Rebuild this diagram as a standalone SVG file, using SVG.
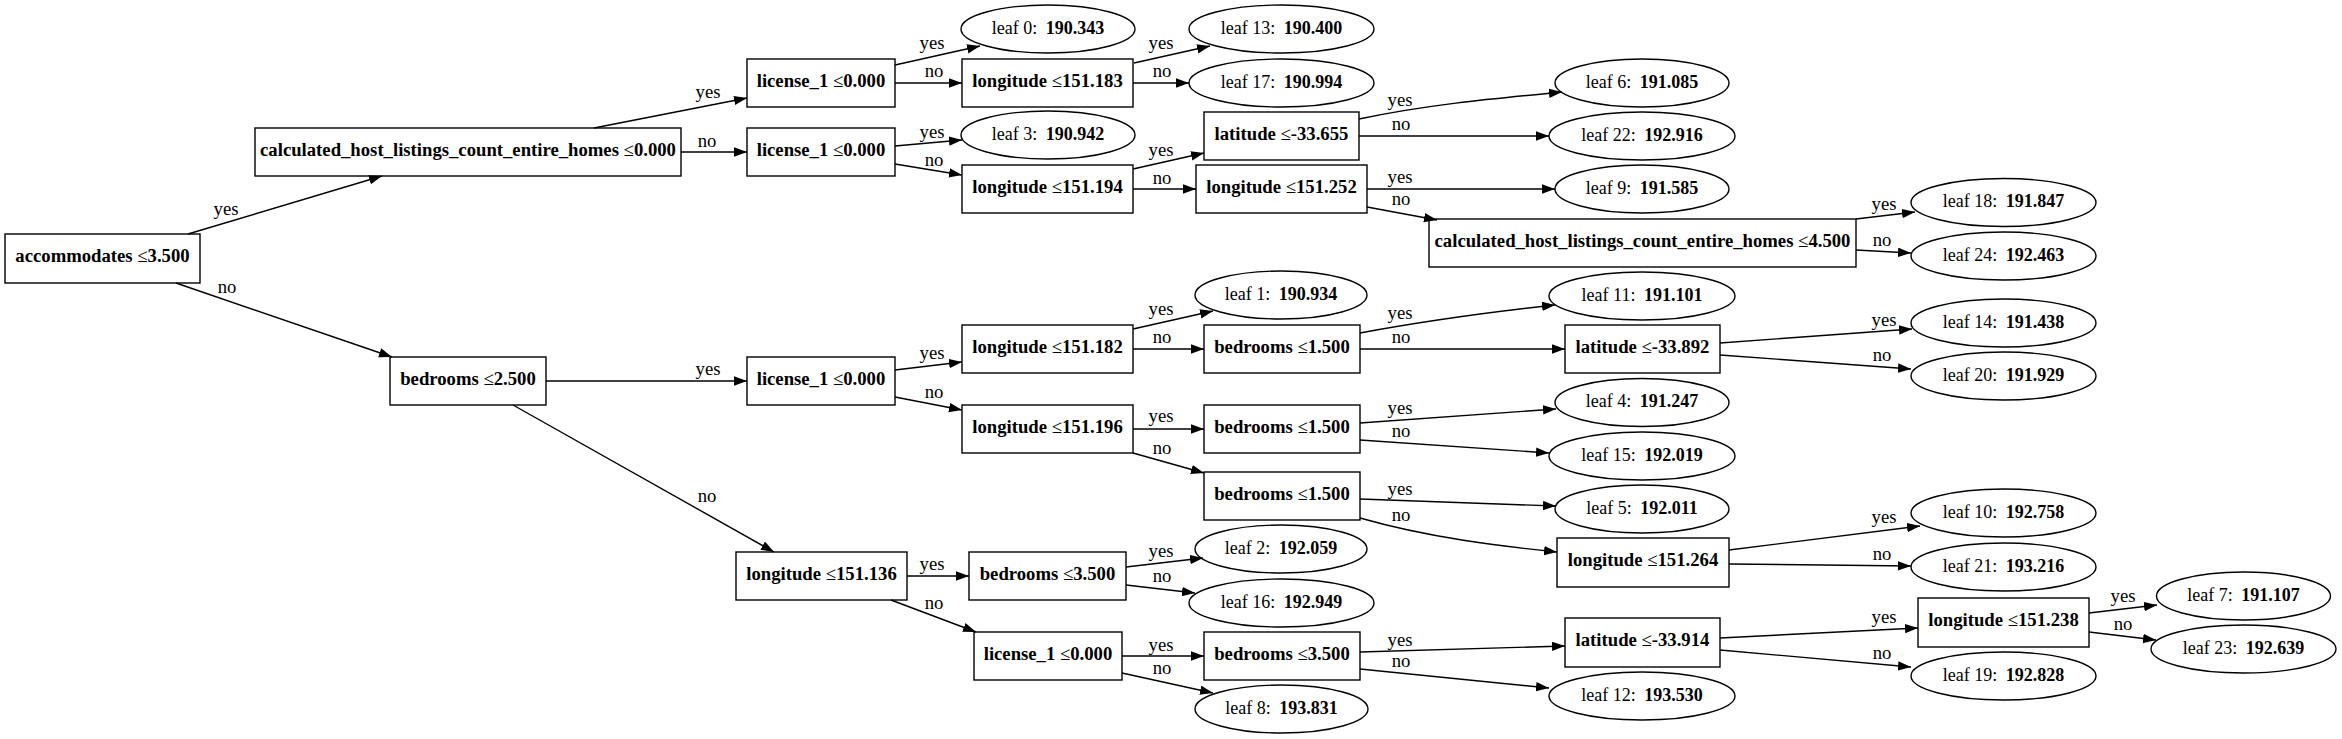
<svg xmlns="http://www.w3.org/2000/svg" width="2342" height="739" viewBox="0 0 2342 739">
<style>
.n rect{fill:none;stroke:#000;stroke-width:1.4}
.n ellipse{fill:none;stroke:#000;stroke-width:1.4}
text{font-family:"Liberation Serif","Times New Roman",serif;font-size:18.7px;fill:#000;text-anchor:middle}
.lf text{font-size:18px}
.b{font-weight:bold}
#edges path{fill:none;stroke:#000;stroke-width:1.4;marker-end:url(#ah)}
</style>
<defs>
<marker id="ah" markerUnits="userSpaceOnUse" markerWidth="14" markerHeight="10" refX="13" refY="4.7" orient="auto">
<path d="M0,0 L13,4.7 L0,9.4 z" fill="#000"/>
</marker>
</defs>
<rect width="2342" height="739" fill="#fff"/>
<g id="edges">
<path d="M188,234 L382,176"/><text x="226" y="215">yes</text>
<path d="M176,283 L392,357"/><text x="227" y="293">no</text>
<path d="M594,128 L747,98"/><text x="708" y="98">yes</text>
<path d="M681,152 L747,152"/><text x="707" y="147">no</text>
<path d="M546,381 L747,381"/><text x="708" y="375">yes</text>
<path d="M513,405 L774,552"/><text x="707" y="502">no</text>
<path d="M895,65 L980,46"/><text x="932" y="49">yes</text>
<path d="M895,83 L962,83"/><text x="934" y="77">no</text>
<path d="M1134,63 L1210,46"/><text x="1161" y="49">yes</text>
<path d="M1133,83 L1189,83"/><text x="1162" y="77">no</text>
<path d="M895,146 L962,140"/><text x="932" y="138">yes</text>
<path d="M895,164 L962,175"/><text x="934" y="166">no</text>
<path d="M1133,169 L1204,153"/><text x="1161" y="156">yes</text>
<path d="M1133,189 L1196,189"/><text x="1162" y="184">no</text>
<path d="M1359,119 C1430,104 1500,98 1562,92"/><text x="1400" y="106">yes</text>
<path d="M1359,136 L1549,136"/><text x="1401" y="130">no</text>
<path d="M1367,189 L1555,189"/><text x="1400" y="183">yes</text>
<path d="M1367,207 L1437,220"/><text x="1401" y="205">no</text>
<path d="M1856,219 L1915,212"/><text x="1884" y="210">yes</text>
<path d="M1856,250 L1911,253"/><text x="1882" y="246">no</text>
<path d="M895,370 L962,362"/><text x="932" y="359">yes</text>
<path d="M895,397 L962,410"/><text x="934" y="398">no</text>
<path d="M1133,329 L1213,311"/><text x="1161" y="315">yes</text>
<path d="M1133,349 L1204,349"/><text x="1162" y="343">no</text>
<path d="M1360,333 C1430,320 1500,311 1555,305"/><text x="1400" y="319">yes</text>
<path d="M1360,349 L1565,349"/><text x="1401" y="343">no</text>
<path d="M1720,343 L1912,329"/><text x="1884" y="326">yes</text>
<path d="M1720,355 L1911,369"/><text x="1882" y="361">no</text>
<path d="M1133,429 L1204,429"/><text x="1161" y="422">yes</text>
<path d="M1133,453 L1204,473"/><text x="1162" y="454">no</text>
<path d="M1360,423 L1556,409"/><text x="1400" y="414">yes</text>
<path d="M1360,440 L1549,453"/><text x="1401" y="437">no</text>
<path d="M1360,499 L1556,506"/><text x="1400" y="495">yes</text>
<path d="M1360,518 C1430,538 1500,546 1557,552"/><text x="1401" y="521">no</text>
<path d="M1729,550 L1920,526"/><text x="1884" y="523">yes</text>
<path d="M1729,564 L1911,566"/><text x="1882" y="560">no</text>
<path d="M907,576 L969,576"/><text x="932" y="570">yes</text>
<path d="M891,600 L976,632"/><text x="934" y="609">no</text>
<path d="M1126,567 L1203,558"/><text x="1161" y="557">yes</text>
<path d="M1126,585 L1195,593"/><text x="1162" y="582">no</text>
<path d="M1122,656 L1204,656"/><text x="1161" y="651">yes</text>
<path d="M1122,673 L1213,693"/><text x="1162" y="674">no</text>
<path d="M1360,652 L1565,646"/><text x="1400" y="646">yes</text>
<path d="M1360,669 L1549,688"/><text x="1401" y="667">no</text>
<path d="M1720,638 L1918,628"/><text x="1884" y="623">yes</text>
<path d="M1720,650 L1911,667"/><text x="1882" y="659">no</text>
<path d="M2089,613 L2157,605"/><text x="2123" y="602">yes</text>
<path d="M2089,632 L2156,640"/><text x="2123" y="630">no</text>
</g>
<g id="split0" class="n"><rect x="5" y="234" width="195" height="49"/><text x="102.5" y="262"><tspan class="b">accommodates</tspan> ≤<tspan class="b">3.500</tspan></text></g>
<g id="split1" class="n"><rect x="255" y="128" width="426" height="48"/><text x="468" y="155.5"><tspan class="b">calculated_host_listings_count_entire_homes</tspan> ≤<tspan class="b">0.000</tspan></text></g>
<g id="split2" class="n"><rect x="390" y="357" width="156" height="48"/><text x="468" y="384.5"><tspan class="b">bedrooms</tspan> ≤<tspan class="b">2.500</tspan></text></g>
<g id="split3" class="n"><rect x="747" y="59" width="148" height="48"/><text x="821" y="86.5"><tspan class="b">license_1</tspan> ≤<tspan class="b">0.000</tspan></text></g>
<g id="split4" class="n"><rect x="747" y="128" width="148" height="48"/><text x="821" y="155.5"><tspan class="b">license_1</tspan> ≤<tspan class="b">0.000</tspan></text></g>
<g id="split5" class="n"><rect x="747" y="357" width="148" height="48"/><text x="821" y="384.5"><tspan class="b">license_1</tspan> ≤<tspan class="b">0.000</tspan></text></g>
<g id="split6" class="n"><rect x="736" y="552" width="171" height="48"/><text x="821.5" y="579.5"><tspan class="b">longitude</tspan> ≤<tspan class="b">151.136</tspan></text></g>
<g id="split7" class="n"><rect x="962" y="59" width="171" height="48"/><text x="1047.5" y="86.5"><tspan class="b">longitude</tspan> ≤<tspan class="b">151.183</tspan></text></g>
<g id="split8" class="n"><rect x="962" y="165" width="171" height="48"/><text x="1047.5" y="192.5"><tspan class="b">longitude</tspan> ≤<tspan class="b">151.194</tspan></text></g>
<g id="split9" class="n"><rect x="962" y="325" width="171" height="48"/><text x="1047.5" y="352.5"><tspan class="b">longitude</tspan> ≤<tspan class="b">151.182</tspan></text></g>
<g id="split10" class="n"><rect x="962" y="405" width="171" height="48"/><text x="1047.5" y="432.5"><tspan class="b">longitude</tspan> ≤<tspan class="b">151.196</tspan></text></g>
<g id="split11" class="n"><rect x="969" y="552" width="157" height="48"/><text x="1047.5" y="579.5"><tspan class="b">bedrooms</tspan> ≤<tspan class="b">3.500</tspan></text></g>
<g id="split12" class="n"><rect x="974" y="632" width="148" height="48"/><text x="1048" y="659.5"><tspan class="b">license_1</tspan> ≤<tspan class="b">0.000</tspan></text></g>
<g id="split13" class="n"><rect x="1204" y="112" width="155" height="48"/><text x="1281.5" y="139.5"><tspan class="b">latitude</tspan> ≤<tspan class="b">-33.655</tspan></text></g>
<g id="split14" class="n"><rect x="1196" y="165" width="171" height="48"/><text x="1281.5" y="192.5"><tspan class="b">longitude</tspan> ≤<tspan class="b">151.252</tspan></text></g>
<g id="split15" class="n"><rect x="1204" y="325" width="156" height="48"/><text x="1282" y="352.5"><tspan class="b">bedrooms</tspan> ≤<tspan class="b">1.500</tspan></text></g>
<g id="split16" class="n"><rect x="1204" y="405" width="156" height="48"/><text x="1282" y="432.5"><tspan class="b">bedrooms</tspan> ≤<tspan class="b">1.500</tspan></text></g>
<g id="split17" class="n"><rect x="1204" y="472" width="156" height="48"/><text x="1282" y="499.5"><tspan class="b">bedrooms</tspan> ≤<tspan class="b">1.500</tspan></text></g>
<g id="split18" class="n"><rect x="1204" y="632" width="156" height="48"/><text x="1282" y="659.5"><tspan class="b">bedrooms</tspan> ≤<tspan class="b">3.500</tspan></text></g>
<g id="split19" class="n"><rect x="1429" y="219" width="427" height="48"/><text x="1642.5" y="246.5"><tspan class="b">calculated_host_listings_count_entire_homes</tspan> ≤<tspan class="b">4.500</tspan></text></g>
<g id="split20" class="n"><rect x="1565" y="325" width="155" height="48"/><text x="1642.5" y="352.5"><tspan class="b">latitude</tspan> ≤<tspan class="b">-33.892</tspan></text></g>
<g id="split21" class="n"><rect x="1557" y="538" width="172" height="49"/><text x="1643" y="566"><tspan class="b">longitude</tspan> ≤<tspan class="b">151.264</tspan></text></g>
<g id="split22" class="n"><rect x="1565" y="618" width="155" height="49"/><text x="1642.5" y="646"><tspan class="b">latitude</tspan> ≤<tspan class="b">-33.914</tspan></text></g>
<g id="split23" class="n"><rect x="1918" y="598" width="171" height="49"/><text x="2003.5" y="626"><tspan class="b">longitude</tspan> ≤<tspan class="b">151.238</tspan></text></g>
<g id="leaf0" class="n lf"><ellipse cx="1048" cy="29" rx="87" ry="24"/><text x="1048" y="33.5">leaf 0: <tspan class="b" dx="4">190.343</tspan></text></g>
<g id="leaf13" class="n lf"><ellipse cx="1281.5" cy="29" rx="92.5" ry="24"/><text x="1281.5" y="33.5">leaf 13: <tspan class="b" dx="4">190.400</tspan></text></g>
<g id="leaf17" class="n lf"><ellipse cx="1281.5" cy="83" rx="92.5" ry="24"/><text x="1281.5" y="87.5">leaf 17: <tspan class="b" dx="4">190.994</tspan></text></g>
<g id="leaf3" class="n lf"><ellipse cx="1048" cy="135" rx="87" ry="24"/><text x="1048" y="139.5">leaf 3: <tspan class="b" dx="4">190.942</tspan></text></g>
<g id="leaf6" class="n lf"><ellipse cx="1642" cy="83" rx="87" ry="24"/><text x="1642" y="87.5">leaf 6: <tspan class="b" dx="4">191.085</tspan></text></g>
<g id="leaf22" class="n lf"><ellipse cx="1642" cy="136" rx="93" ry="24"/><text x="1642" y="140.5">leaf 22: <tspan class="b" dx="4">192.916</tspan></text></g>
<g id="leaf9" class="n lf"><ellipse cx="1642" cy="189" rx="87" ry="24"/><text x="1642" y="193.5">leaf 9: <tspan class="b" dx="4">191.585</tspan></text></g>
<g id="leaf18" class="n lf"><ellipse cx="2003.5" cy="202.5" rx="92.5" ry="24"/><text x="2003.5" y="207">leaf 18: <tspan class="b" dx="4">191.847</tspan></text></g>
<g id="leaf24" class="n lf"><ellipse cx="2003.5" cy="256" rx="92.5" ry="24"/><text x="2003.5" y="260.5">leaf 24: <tspan class="b" dx="4">192.463</tspan></text></g>
<g id="leaf1" class="n lf"><ellipse cx="1281" cy="295" rx="86" ry="24"/><text x="1281" y="299.5">leaf 1: <tspan class="b" dx="4">190.934</tspan></text></g>
<g id="leaf11" class="n lf"><ellipse cx="1642" cy="296" rx="93" ry="24"/><text x="1642" y="300.5">leaf 11: <tspan class="b" dx="4">191.101</tspan></text></g>
<g id="leaf14" class="n lf"><ellipse cx="2003.5" cy="323" rx="92.5" ry="24"/><text x="2003.5" y="327.5">leaf 14: <tspan class="b" dx="4">191.438</tspan></text></g>
<g id="leaf20" class="n lf"><ellipse cx="2003.5" cy="376" rx="92.5" ry="24"/><text x="2003.5" y="380.5">leaf 20: <tspan class="b" dx="4">191.929</tspan></text></g>
<g id="leaf4" class="n lf"><ellipse cx="1642" cy="402.5" rx="87" ry="24"/><text x="1642" y="407">leaf 4: <tspan class="b" dx="4">191.247</tspan></text></g>
<g id="leaf15" class="n lf"><ellipse cx="1642" cy="456" rx="93" ry="24"/><text x="1642" y="460.5">leaf 15: <tspan class="b" dx="4">192.019</tspan></text></g>
<g id="leaf5" class="n lf"><ellipse cx="1642" cy="509" rx="87" ry="24"/><text x="1642" y="513.5">leaf 5: <tspan class="b" dx="4">192.011</tspan></text></g>
<g id="leaf10" class="n lf"><ellipse cx="2003.5" cy="513" rx="92.5" ry="24"/><text x="2003.5" y="517.5">leaf 10: <tspan class="b" dx="4">192.758</tspan></text></g>
<g id="leaf21" class="n lf"><ellipse cx="2003.5" cy="567" rx="92.5" ry="24"/><text x="2003.5" y="571.5">leaf 21: <tspan class="b" dx="4">193.216</tspan></text></g>
<g id="leaf2" class="n lf"><ellipse cx="1281" cy="549" rx="86" ry="24"/><text x="1281" y="553.5">leaf 2: <tspan class="b" dx="4">192.059</tspan></text></g>
<g id="leaf16" class="n lf"><ellipse cx="1281.5" cy="603" rx="92.5" ry="24"/><text x="1281.5" y="607.5">leaf 16: <tspan class="b" dx="4">192.949</tspan></text></g>
<g id="leaf7" class="n lf"><ellipse cx="2243.5" cy="596" rx="87" ry="24"/><text x="2243.5" y="600.5">leaf 7: <tspan class="b" dx="4">191.107</tspan></text></g>
<g id="leaf23" class="n lf"><ellipse cx="2243.5" cy="649" rx="92.5" ry="24"/><text x="2243.5" y="653.5">leaf 23: <tspan class="b" dx="4">192.639</tspan></text></g>
<g id="leaf8" class="n lf"><ellipse cx="1281.5" cy="709" rx="86.5" ry="24"/><text x="1281.5" y="713.5">leaf 8: <tspan class="b" dx="4">193.831</tspan></text></g>
<g id="leaf12" class="n lf"><ellipse cx="1642" cy="696" rx="93" ry="24"/><text x="1642" y="700.5">leaf 12: <tspan class="b" dx="4">193.530</tspan></text></g>
<g id="leaf19" class="n lf"><ellipse cx="2003.5" cy="676" rx="92.5" ry="24"/><text x="2003.5" y="680.5">leaf 19: <tspan class="b" dx="4">192.828</tspan></text></g>
</svg>
